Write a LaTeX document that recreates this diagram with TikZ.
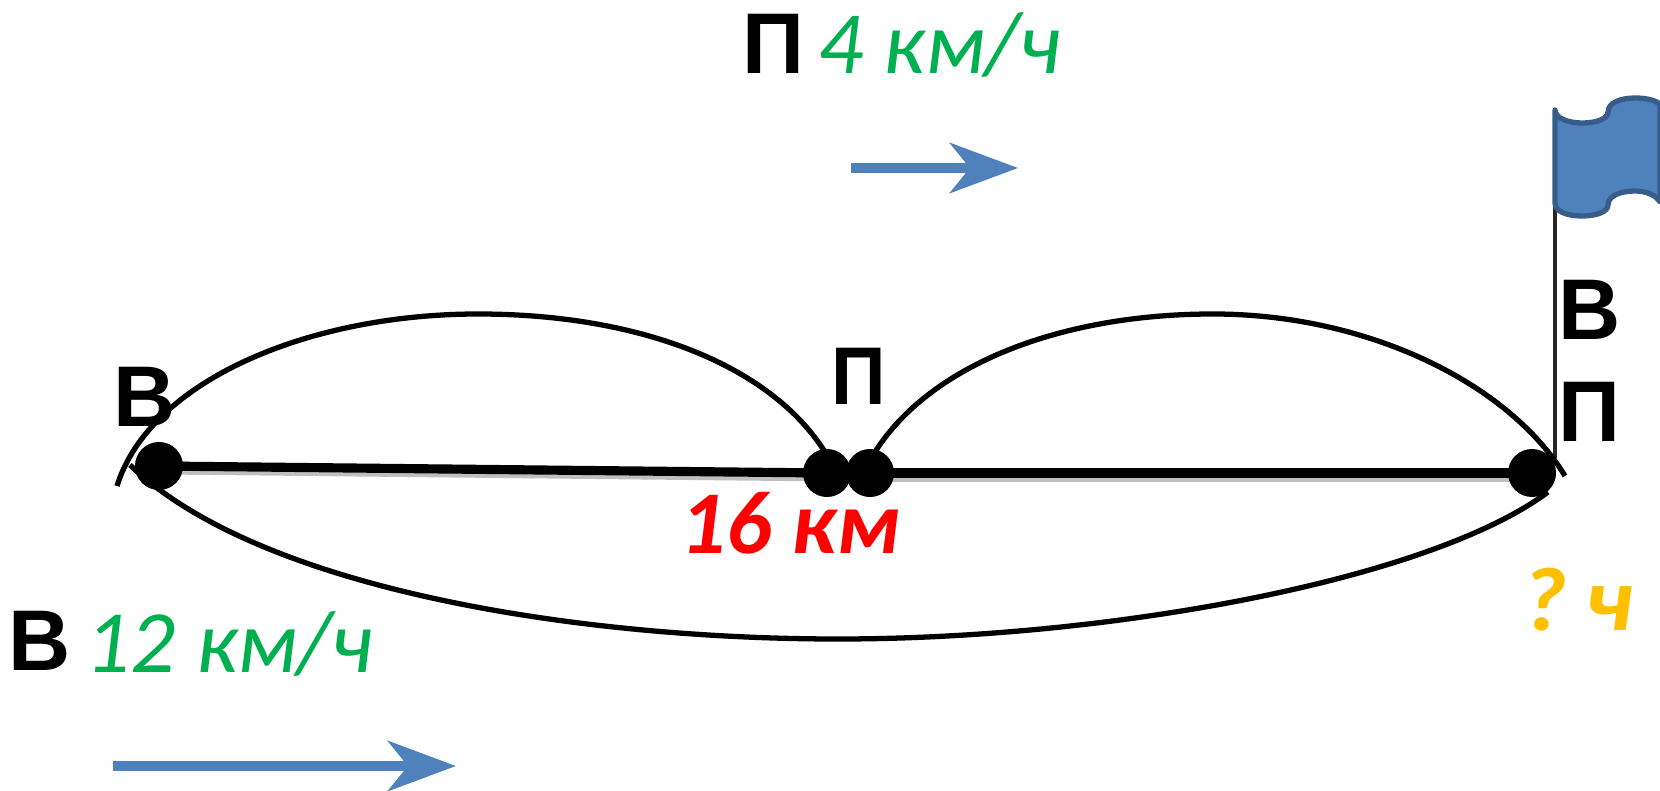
\documentclass[tikz,border=0pt]{standalone}
\usepackage{fontspec}
\setmainfont{Liberation Sans}
\newfontfamily\calibri{Carlito}
\usetikzlibrary{arrows.meta,calc,backgrounds}
\definecolor{flagblue}{HTML}{4F81BD}
\definecolor{flagedge}{HTML}{385D8A}
\definecolor{speedgreen}{HTML}{00B050}
\definecolor{timeorange}{HTML}{FFC000}
\tikzset{
	letter/.style={anchor=base west, inner sep=0pt, font=\fontsize{24.5}{26}\selectfont\bfseries},
	speed/.style={anchor=base west, inner sep=0pt, text=speedgreen, font=\calibri\fontsize{25.3}{27}\selectfont\itshape},
	given/.style={anchor=base west, inner sep=0pt, font=\calibri\fontsize{25.5}{27}\selectfont\bfseries\itshape},
	dot/.style={circle, fill=black, inner sep=0pt, minimum size=0.48cm},
	curve/.style={line width=1.5pt},
	blockarrow/.style={draw=flagblue, line width=0.1cm, -{Stealth[length=0.68cm, width=0.5cm, inset=0.2cm]}},
}
\begin{document}
\begin{tikzpicture}[x=0.01cm, y=-0.01cm]
	\useasboundingbox (0,0) rectangle (1660,791);
	% flag
	\draw[line width=1.1pt, black!85] (1555,205) -- (1555,458);
	\filldraw[fill=flagblue, draw=flagedge, line width=1.5pt, line join=round]
		(1555,110) .. controls (1555,118) and (1568,123) .. (1582,123)
		.. controls (1596,123) and (1608,119) .. (1608,112)
		.. controls (1608,103) and (1620,98) .. (1635,98)
		.. controls (1648,98) and (1658,101) .. (1660,105)
		-- (1660,202)
		.. controls (1656,195) and (1646,191) .. (1635,191)
		.. controls (1620,191) and (1608,196) .. (1608,205)
		.. controls (1608,212) and (1596,216) .. (1582,216)
		.. controls (1568,216) and (1555,212) .. (1555,203) -- cycle;
	% three trips
	\coordinate (startup) at (117,486);
	\coordinate (endleft) at (825,452);
	\coordinate (startright) at (875,452);
	\coordinate (endup) at (1565,476);
	\coordinate (startlow) at (130,465);
	\coordinate (endlow) at (1548,492);
	\draw[curve] (startup) .. controls (150,380) and (310,314) .. (478,314)
		.. controls (640,314) and (770,365) .. (endleft);
	\draw[curve] (startright) .. controls (930,365) and (1060,314) .. (1213,314)
		.. controls (1370,314) and (1510,385) .. (endup);
	\draw[curve] (startlow) .. controls (260,590) and (580,639) .. (838,639)
		.. controls (1110,639) and (1430,580) .. (endlow);
	% road
	\node[dot] (home) at (159,466) {};
	\node[dot] (meetl) at (827,473) {};
	\node[dot] (meetr) at (870,473) {};
	\node[dot] (finish) at (1532,473) {};
	\begin{pgfonlayer}{background}
		\draw[line width=2.6pt, black!25] ([yshift=-1.1pt]home.center) -- ([yshift=-1.1pt]meetl.center);
		\draw[line width=3.1pt, black!25] ([yshift=-1.1pt]meetr.center) -- ([yshift=-1.1pt]finish.center);
		\draw[line width=2.6pt] (home.center) -- (meetl.center);
		\draw[line width=3.1pt] (meetr.center) -- (finish.center);
	\end{pgfonlayer}
	% labels
	\node[letter] (vstart) at (113,426) {В};
	\node[letter, xscale=0.88, yscale=0.95, transform shape] (pmid) at (831,404) {П};
	\node[letter] (vend) at (1558,340) {В};
	\node[letter] (pend) at (1558,442) {П};
	\node[letter] (ptop) at (742,74) {П};
	\node[letter] (vlow) at (8,670) {В};
	\node[speed] (ptopspeed) at (818,74) {4 км/ч};
	\node[speed] (vlowspeed) at (85,672) {12 км/ч};
	\node[given, text=red] (dist) at (680,553) {16 км};
	\node[given, yscale=0.92, transform shape, text=timeorange, font=\calibri\fontsize{28}{30}\selectfont\bfseries\itshape] (timeq) at (1521,630) {?\kern-0.12em{} ч};
	% arrows
	\coordinate (ptail) at (851,168);
	\coordinate (phead) at (1018,168);
	\coordinate (vtail) at (113,766);
	\coordinate (vhead) at (456,766);
	\draw[blockarrow] (ptail) -- (phead);
	\draw[blockarrow] (vtail) -- (vhead);
\end{tikzpicture}
\end{document}
